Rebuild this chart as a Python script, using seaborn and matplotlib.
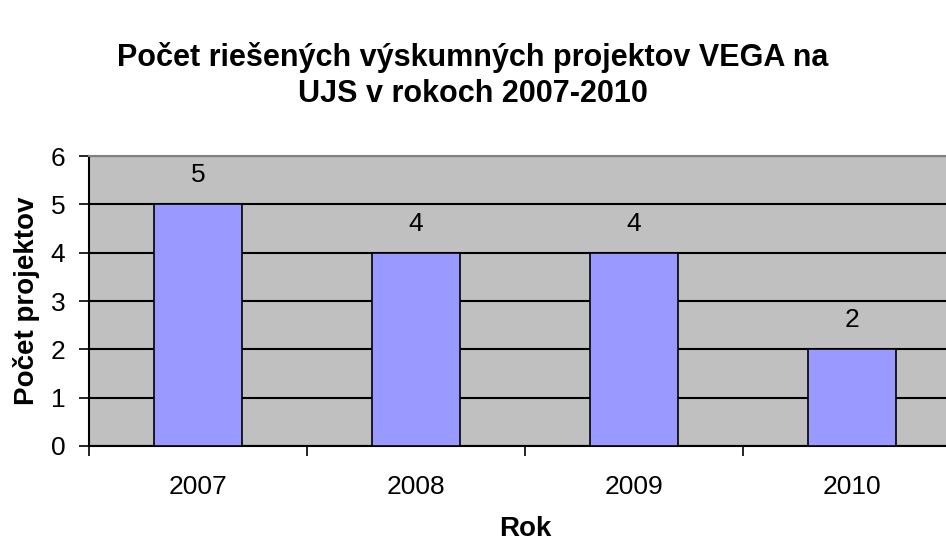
import matplotlib
matplotlib.use('Agg')
from matplotlib import pyplot as plt
import seaborn as sns
import pandas as pd

years = ['2007', '2008', '2009', '2010']
projects = [5, 4, 4, 2]

sns.set_style('white')
plt.rcParams['font.family'] = ['Liberation Sans', 'DejaVu Sans']
plt.rcParams['text.color'] = 'black'
plt.rcParams['axes.labelcolor'] = 'black'
plt.rcParams['xtick.color'] = 'black'
plt.rcParams['ytick.color'] = 'black'

data = pd.DataFrame({'Rok': years, 'Počet projektov': projects})

fig = plt.figure(figsize=(9.46, 5.45), dpi=100)
ax = fig.add_axes([0.0941, 0.1817, 0.9218, 0.532])
ax.set_facecolor('#C0C0C0')

sns.barplot(data=data, x='Rok', y='Počet projektov', color='#9999FF',
            saturation=1, width=0.4, edgecolor='black', linewidth=1.2,
            ax=ax, zorder=3)

# value labels above the bars
for i, v in enumerate(projects):
    ax.annotate(str(v), (i, v), xytext=(0, 21), textcoords='offset points',
                ha='center', va='center', fontsize=19, color='black')

ax.set_xlim(-0.5, 3.5)
ax.set_ylim(0, 6)
ax.set_yticks(range(0, 7))
ax.yaxis.grid(True, color='black', linewidth=1.5, zorder=1)
ax.set_axisbelow(True)

ax.set_xticks([0, 1, 2, 3])
ax.set_xticklabels(years)
ax.set_xticks([-0.5, 0.5, 1.5, 2.5, 3.5], minor=True)
ax.tick_params(axis='x', which='major', length=0, pad=21, labelsize=19)
ax.tick_params(axis='x', which='minor', length=7, width=1.2, color='black',
               direction='out', bottom=True)
ax.tick_params(axis='y', length=7, width=1.2, color='black', direction='out',
               left=True, labelsize=19, pad=10)

for side in ['left', 'bottom']:
    ax.spines[side].set_color('black')
    ax.spines[side].set_linewidth(1.5)
ax.spines['top'].set_color('#808080')
ax.spines['top'].set_linewidth(1.5)
ax.spines['right'].set_visible(False)

ax.set_xlabel('Rok', fontsize=20, fontweight='bold', labelpad=12)
ax.set_ylabel('Počet projektov', fontsize=20, fontweight='bold', labelpad=8)

fig.text(0.5, 0.8615, 'Počet riešených výskumných projektov VEGA na\nUJS v rokoch 2007-2010',
         ha='center', va='center', fontsize=22, fontweight='bold', linespacing=1.3)

fig.savefig('out.png', dpi=100)
